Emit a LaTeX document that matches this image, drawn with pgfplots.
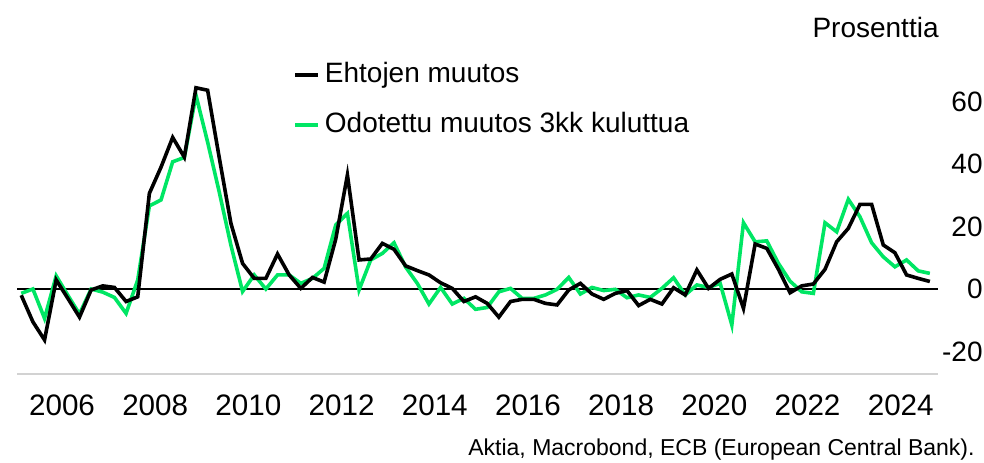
\documentclass[border=0pt]{standalone}
\usepackage{pgfplots}
\pgfplotsset{compat=1.18}
\usepackage{fontspec}
\setmainfont{Liberation Sans}
\definecolor{lgreen}{RGB}{0,230,100}
\newcommand\f{\fontsize{14}{16}\selectfont}
\newcommand\fx{\fontsize{14.8}{16}\selectfont}
\begin{document}
\begin{tikzpicture}
\useasboundingbox (-8.5pt,-44pt) rectangle (483.5pt,187pt);
\begin{axis}[
  at={(0,0)}, anchor=south west,
  scale only axis, width=460.5pt, height=151.875pt,
  xmin=2005.034, xmax=2024.8, ymin=-27.2, ymax=70,
  axis line style={draw=none},
  tick style={draw=none},
  xtick={2006,2008,2010,2012,2014,2016,2018,2020,2022,2024},
  xticklabels={2006,2008,2010,2012,2014,2016,2018,2020,2022,2024},
  ytick={-20,0,20,40,60},
  yticklabels={-20,0,20,40,60},
  yticklabel pos=right,
  xticklabel style={font=\fx, anchor=base, inner sep=0pt, yshift=-20.8pt},
  yticklabel style={font=\f, anchor=east, inner sep=0pt, xshift=22.5pt},
  clip=false,
  legend style={draw=none, fill=none, inner sep=0pt, outer sep=0pt,
    at={(axis description cs:0.3000,1.027)}, anchor=north west,
    row sep=12pt, column sep=2.5pt,
    nodes={inner sep=0pt, text height=10pt, text depth=3pt, font=\f}},
  legend cell align=left,
  legend image code/.code={\draw[#1] (0pt,0pt) -- (11.5pt,0pt);},
  reverse legend,
]
\draw[gray!35, line width=0.8pt] (axis description cs:0,0) -- (axis description cs:1,0);
\addplot[black, line width=1.4pt, forget plot] coordinates {(2005.034,0) (2024.8,0)};
\addplot[lgreen, line width=1.8pt, line join=miter] coordinates {
(2005.125,-1.4) (2005.375,0) (2005.625,-9.4) (2005.875,4.2)
(2006.125,-2) (2006.375,-8) (2006.625,0) (2006.875,-1)
(2007.125,-2.7) (2007.375,-7.8) (2007.625,2.9) (2007.875,26.6)
(2008.125,28.5) (2008.375,40.7) (2008.625,42.1) (2008.875,62)
(2009.125,47) (2009.375,31) (2009.625,14) (2009.875,-0.8)
(2010.125,4.5) (2010.375,0) (2010.625,4.5) (2010.875,4.5)
(2011.125,1.8) (2011.375,3.4) (2011.625,6.6) (2011.875,20.5)
(2012.125,24.2) (2012.375,-0.3) (2012.625,9.3) (2012.875,11.4)
(2013.125,14.8) (2013.375,7) (2013.625,1.8) (2013.875,-4.8)
(2014.125,0.5) (2014.375,-4.8) (2014.625,-3) (2014.875,-6.5)
(2015.125,-5.9) (2015.375,-0.9) (2015.625,0.2) (2015.875,-3)
(2016.125,-3) (2016.375,-1.9) (2016.625,-0.1) (2016.875,3.7)
(2017.125,-1.6) (2017.375,0.5) (2017.625,-0.5) (2017.875,-0.1)
(2018.125,-2.8) (2018.375,-1.9) (2018.625,-2.7) (2018.875,0.2)
(2019.125,3.6) (2019.375,-1.9) (2019.625,1.3) (2019.875,0.5)
(2020.125,1.8) (2020.375,-11.5) (2020.625,21.2) (2020.875,15.1)
(2021.125,15.4) (2021.375,8.2) (2021.625,2.5) (2021.875,-0.9)
(2022.125,-1.4) (2022.375,21.2) (2022.625,18.3) (2022.875,28.7)
(2023.125,23.1) (2023.375,14.8) (2023.625,10.3) (2023.875,7.1)
(2024.125,9.3) (2024.375,5.8) (2024.625,5)
};
\addlegendentry{Odotettu muutos 3kk kuluttua}
\addplot[black, line width=1.8pt, line join=miter] coordinates {
(2005.125,-2) (2005.375,-10.5) (2005.625,-16.3) (2005.875,2.9)
(2006.125,-3) (2006.375,-9) (2006.625,-0.3) (2006.875,1)
(2007.125,0.5) (2007.375,-4) (2007.625,-2.5) (2007.875,30.6)
(2008.125,39) (2008.375,48.5) (2008.625,42.2) (2008.875,64.4)
(2009.125,63.6) (2009.375,42) (2009.625,21) (2009.875,8.2)
(2010.125,3.4) (2010.375,3.4) (2010.625,11.2) (2010.875,4.5)
(2011.125,0.2) (2011.375,3.7) (2011.625,2.2) (2011.875,16)
(2012.125,36.5) (2012.375,9.3) (2012.625,9.6) (2012.875,14.6)
(2013.125,12.7) (2013.375,7.4) (2013.625,5.9) (2013.875,4.5)
(2014.125,2.0) (2014.375,0.2) (2014.625,-4) (2014.875,-2.5)
(2015.125,-4.6) (2015.375,-9) (2015.625,-4) (2015.875,-3.3)
(2016.125,-3.3) (2016.375,-4.6) (2016.625,-5.1) (2016.875,-0.3)
(2017.125,1.8) (2017.375,-1.6) (2017.625,-3.3) (2017.875,-1.4)
(2018.125,-0.5) (2018.375,-5.3) (2018.625,-3.3) (2018.875,-4.8)
(2019.125,0.4) (2019.375,-1.9) (2019.625,6.1) (2019.875,0.2)
(2020.125,3.1) (2020.375,4.8) (2020.625,-6.2) (2020.875,14.4)
(2021.125,13) (2021.375,6.3) (2021.625,-1.2) (2021.875,1)
(2022.125,1.6) (2022.375,6.3) (2022.625,15.1) (2022.875,19.4)
(2023.125,27.1) (2023.375,27.1) (2023.625,14.1) (2023.875,11.6)
(2024.125,4.5) (2024.375,3.4) (2024.625,2.4)
};
\addlegendentry{Ehtojen muutos}
\end{axis}
\node[anchor=base east, inner sep=0pt, font=\f] at (461pt,168.5pt) {Prosenttia};
\node[anchor=base east, inner sep=0pt, font=\fontsize{11.5}{13}\selectfont] at (479pt,-40.5pt) {Aktia, Macrobond, ECB (European Central Bank).};
\end{tikzpicture}
\end{document}
